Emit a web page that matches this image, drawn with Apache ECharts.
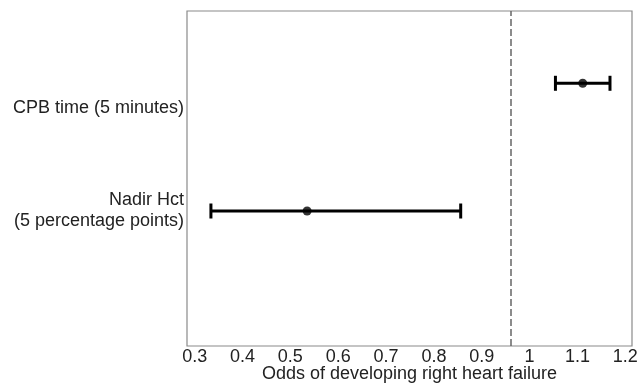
<!DOCTYPE html>
<html>
<head>
<meta charset="utf-8">
<script src="https://cdn.jsdelivr.net/npm/echarts@6/dist/echarts.min.js"></script>
<style>
html,body{margin:0;padding:0;background:#fff;}
#chart{width:641px;height:385px;}
</style>
</head>
<body>
<div id="chart"></div>
<script>
// Data
const categories = ['CPB time (5 minutes)', 'Nadir Hct\n(5 percentage points)'];
const oddsRatio = [1.111, 0.535];
const ciLow = [1.054, 0.334];
const ciHigh = [1.168, 0.856];
const xTicks = [0.3, 0.4, 0.5, 0.6, 0.7, 0.8, 0.9, 1, 1.1, 1.2];
const referenceLine = 0.963;
const xTitle = 'Odds of developing right heart failure';

// row index for each category (top row highest)
const rowOf = i => categories.length - i;

const chart = echarts.init(document.getElementById('chart'), null, {renderer: 'canvas'});
const font = 'Liberation Sans, Arial, Helvetica, sans-serif';

const option = {
  animation: false,
  backgroundColor: '#fff',
  grid: {
    left: 187, right: 9, top: 11, bottom: 39,
    outerBoundsMode: 'none',
    containLabel: false,
    show: true, borderColor: '#8a8a8a', borderWidth: 1.2, backgroundColor: 'transparent'
  },
  xAxis: {
    type: 'value',
    min: 0.284, max: 1.214,
    axisLine: {show: false},
    axisTick: {show: false},
    splitLine: {show: false},
    axisLabel: {
      customValues: xTicks,
      formatter: v => String(v),
      color: '#222', fontSize: 18, fontFamily: font, margin: 2
    },
    name: xTitle,
    nameLocation: 'middle',
    nameGap: 19,
    nameMoveOverlap: false,
    nameTextStyle: {color: '#222', fontSize: 18, fontFamily: font}
  },
  yAxis: {
    type: 'value',
    min: -0.057, max: 2.566,
    axisLine: {show: false},
    axisTick: {show: false},
    splitLine: {show: false},
    axisLabel: {
      customValues: [1, 1.807],
      formatter: v => (v === 1 ? categories[1] : categories[0]),
      color: '#222', fontSize: 18, fontFamily: font, margin: 3, lineHeight: 21, align: 'right'
    }
  },
  series: [
    {
      type: 'custom',
      data: categories.map((c, i) => [ciLow[i], ciHigh[i], rowOf(i)]),
      encode: {x: [0, 1], y: 2},
      renderItem: function (params, api) {
        const lo = api.coord([api.value(0), api.value(2)]);
        const hi = api.coord([api.value(1), api.value(2)]);
        const h = 7.5;
        const style = {stroke: '#000', lineWidth: 3};
        return {
          type: 'group',
          children: [
            {type: 'line', shape: {x1: lo[0], y1: lo[1], x2: hi[0], y2: hi[1]}, style: style},
            {type: 'line', shape: {x1: lo[0], y1: lo[1] - h, x2: lo[0], y2: lo[1] + h}, style: style},
            {type: 'line', shape: {x1: hi[0], y1: hi[1] - h, x2: hi[0], y2: hi[1] + h}, style: style}
          ]
        };
      },
      markLine: {
        silent: true,
        symbol: 'none',
        label: {show: false},
        lineStyle: {color: '#666', type: [7, 3], width: 1.5},
        data: [{xAxis: referenceLine}]
      },
      z: 2
    },
    {
      type: 'scatter',
      data: oddsRatio.map((v, i) => [v, rowOf(i)]),
      symbol: 'circle',
      symbolSize: 9,
      itemStyle: {color: '#000'},
      z: 3
    }
  ]
};
chart.setOption(option);
</script>
</body>
</html>
